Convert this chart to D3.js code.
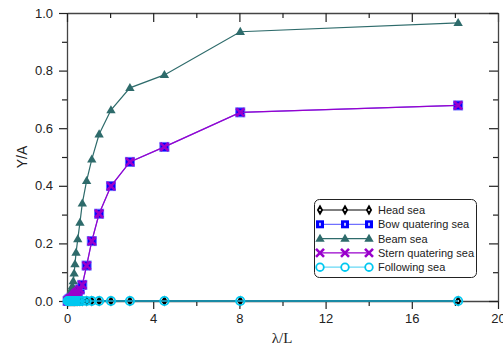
<!DOCTYPE html>
<html><head><meta charset="utf-8">
<script src="https://cdn.jsdelivr.net/npm/d3@7"></script>
<style>body{margin:0;background:#fff}svg{display:block}</style>
</head><body>
<svg id="c" width="503" height="350"></svg>
<script>
const lambdaL = [0.03, 0.06, 0.09, 0.12, 0.16, 0.2, 0.25, 0.29, 0.33, 0.37, 0.42, 0.5, 0.6, 0.71, 0.91, 1.15, 1.49, 2.04, 2.92, 4.52, 8.04, 18.15];
const headSea = [0,0,0,0,0,0,0,0,0,0,0,0,0,0,0,0,0,0,0,0,0,0];
const bowQuartering = [0,0.002,0.004,0.006,0.008,0.01,0.013,0.016,0.02,0.024,0.028,0.033,0.04,0.056,0.123,0.208,0.303,0.399,0.483,0.535,0.655,0.679];
const beamSea = [0,0.004,0.01,0.018,0.028,0.04,0.052,0.069,0.096,0.128,0.168,0.215,0.272,0.339,0.417,0.492,0.579,0.663,0.74,0.785,0.935,0.966];
const sternQuartering = bowQuartering.slice();
const followingSea = [0,0,0,0,0,0,0,0,0,0,0,0,0,0,0,0,0,0,0,0,0,0];
const seriesNames = ["Head sea","Bow quatering sea","Beam sea","Stern quatering sea","Following sea"];
const xTicks = [0,4,8,12,16,20];
const yTicks = [0,0.2,0.4,0.6,0.8,1.0];

const svg = d3.select("#c");
const L=67,R=498,T=13,B=301;
const x = d3.scaleLinear().domain([0,20]).range([L,R]);
const y = d3.scaleLinear().domain([0,1]).range([B,T]);
const font = "Liberation Sans, Arial, sans-serif";

// axes
const gB = svg.append("g").attr("transform",`translate(0,${B})`)
  .call(d3.axisBottom(x).tickValues(xTicks).tickSize(8).tickSizeOuter(0).tickPadding(5).tickFormat(d3.format("d")));
svg.append("g").attr("transform",`translate(0,${B})`)
  .call(d3.axisBottom(x).tickValues([2,6,10,14,18]).tickSize(5).tickSizeOuter(0).tickFormat(""))
  .select(".domain").remove();
const gL = svg.append("g").attr("transform",`translate(${L},0)`)
  .call(d3.axisLeft(y).tickValues(yTicks).tickSize(8).tickSizeOuter(0).tickPadding(6).tickFormat(d3.format(".1f")));
svg.append("g").attr("transform",`translate(${L},0)`)
  .call(d3.axisLeft(y).tickValues([0.1,0.3,0.5,0.7,0.9]).tickSize(5).tickSizeOuter(0).tickFormat(""))
  .select(".domain").remove();
const gT = svg.append("g").attr("transform",`translate(0,${T})`)
  .call(d3.axisBottom(x).tickValues(xTicks).tickSize(9).tickSizeOuter(0).tickFormat(""));
svg.append("g").attr("transform",`translate(0,${T})`)
  .call(d3.axisBottom(x).tickValues([2,6,10,14,18]).tickSize(5).tickSizeOuter(0).tickFormat(""))
  .select(".domain").remove();
const gR = svg.append("g").attr("transform",`translate(${R},0)`)
  .call(d3.axisLeft(y).tickValues(yTicks).tickSize(9).tickSizeOuter(0).tickFormat(""));
svg.append("g").attr("transform",`translate(${R},0)`)
  .call(d3.axisLeft(y).tickValues([0.1,0.3,0.5,0.7,0.9]).tickSize(5).tickSizeOuter(0).tickFormat(""))
  .select(".domain").remove();
svg.selectAll(".domain").attr("stroke","#444").attr("stroke-width",1.3);
svg.selectAll(".tick line").attr("stroke","#222").attr("stroke-width",1.2);
svg.selectAll(".tick text").attr("font-family",font).attr("font-size",13).attr("fill","#222");

svg.append("text").attr("transform",`translate(27,${(T+B)/2}) rotate(-90)`)
  .attr("text-anchor","middle").attr("font-family",font).attr("font-size",14).attr("fill","#222").text("Y/A");
svg.append("text").attr("x",282).attr("y",343).attr("text-anchor","middle")
  .attr("font-family","Liberation Serif, Times New Roman, serif").attr("font-size",15).attr("fill","#222").text("λ/L");

const styles = [
  {data:headSea, line:"#000", w:1.2, marker:"diamond", color:"#000"},
  {data:bowQuartering, line:"#7070ff", w:1.2, marker:"square", color:"#0000ff"},
  {data:beamSea, line:"#2e6b6b", w:1.2, marker:"triangle", color:"#2e6b6b"},
  {data:sternQuartering, line:"#9900cc", w:1.2, marker:"cross", color:"#9900cc"},
  {data:followingSea, line:"#1a8aa5", w:2, marker:"circle", color:"#00c8f0"}
];
const line = d3.line().x(d=>x(d[0])).y(d=>y(d[1]));

function marker(g, type, color, cx, cy){
  if(type==="diamond"){
    g.append("path").attr("d",d3.symbol(d3.symbolDiamond,34)()).attr("transform",`translate(${cx},${cy})`).attr("fill","#000");
    g.append("circle").attr("cx",cx).attr("cy",cy).attr("r",1).attr("fill","#fff");
  } else if(type==="square"){
    g.append("rect").attr("x",cx-4.5).attr("y",cy-4.5).attr("width",9).attr("height",9).attr("fill","#0000ff").attr("stroke","#6a6aff").attr("stroke-width",1);
    g.append("rect").attr("x",cx-1.2).attr("y",cy-1.5).attr("width",2.4).attr("height",3).attr("fill","#b0b0ff");
  } else if(type==="triangle"){
    g.append("path").attr("d",d3.symbol(d3.symbolTriangle,38)()).attr("transform",`translate(${cx},${cy+0.5})`).attr("fill",color);
  } else if(type==="cross"){
    g.append("path").attr("d",`M${cx-4},${cy-4}L${cx+4},${cy+4}M${cx-4},${cy+4}L${cx+4},${cy-4}`).attr("stroke",color).attr("stroke-width",2.6);
  } else if(type==="circle"){
    g.append("circle").attr("cx",cx).attr("cy",cy).attr("r",4.2).attr("fill","none").attr("stroke",color).attr("stroke-width",1.8);
  }
}

const plot = svg.append("g");
styles.forEach(s=>{
  const pts = lambdaL.map((v,i)=>[v,s.data[i]]);
  plot.append("path").datum(pts).attr("d",line).attr("fill","none").attr("stroke",s.line).attr("stroke-width",s.w);
  const mg = plot.append("g");
  pts.forEach(p=>marker(mg,s.marker,s.color,x(p[0]),y(p[1])));
});

// legend
const lg = svg.append("g");
lg.append("rect").attr("x",314.5).attr("y",199.5).attr("width",162).attr("height",78).attr("rx",5)
  .attr("fill","#fff").attr("stroke","#222").attr("stroke-width",1);
const legLines = ["#000","#7070ff","#2e6b6b","#9900cc","#66d8f5"];
seriesNames.forEach((n,i)=>{
  const yy = 210 + i*14.3;
  lg.append("line").attr("x1",320).attr("x2",369).attr("y1",yy).attr("y2",yy).attr("stroke",legLines[i]).attr("stroke-width",1.2);
  [320,345,369].forEach(cx=>{
    if(styles[i].marker==="circle"){
      lg.append("circle").attr("cx",cx).attr("cy",yy).attr("r",3.8).attr("fill","#fff").attr("stroke","#00c8f0").attr("stroke-width",1.8);
    } else if(styles[i].marker==="square"){
      lg.append("rect").attr("x",cx-4).attr("y",yy-4).attr("width",8).attr("height",8).attr("fill","#0000ff");
      lg.append("rect").attr("x",cx-1).attr("y",yy-1.5).attr("width",2).attr("height",3).attr("fill","#c0c0ff");
    } else marker(lg,styles[i].marker,styles[i].color,cx,yy);
  });
  lg.append("text").attr("x",378).attr("y",yy+4).attr("font-family",font).attr("font-size",11).attr("fill","#222").text(n);
});
</script>
</body></html>
